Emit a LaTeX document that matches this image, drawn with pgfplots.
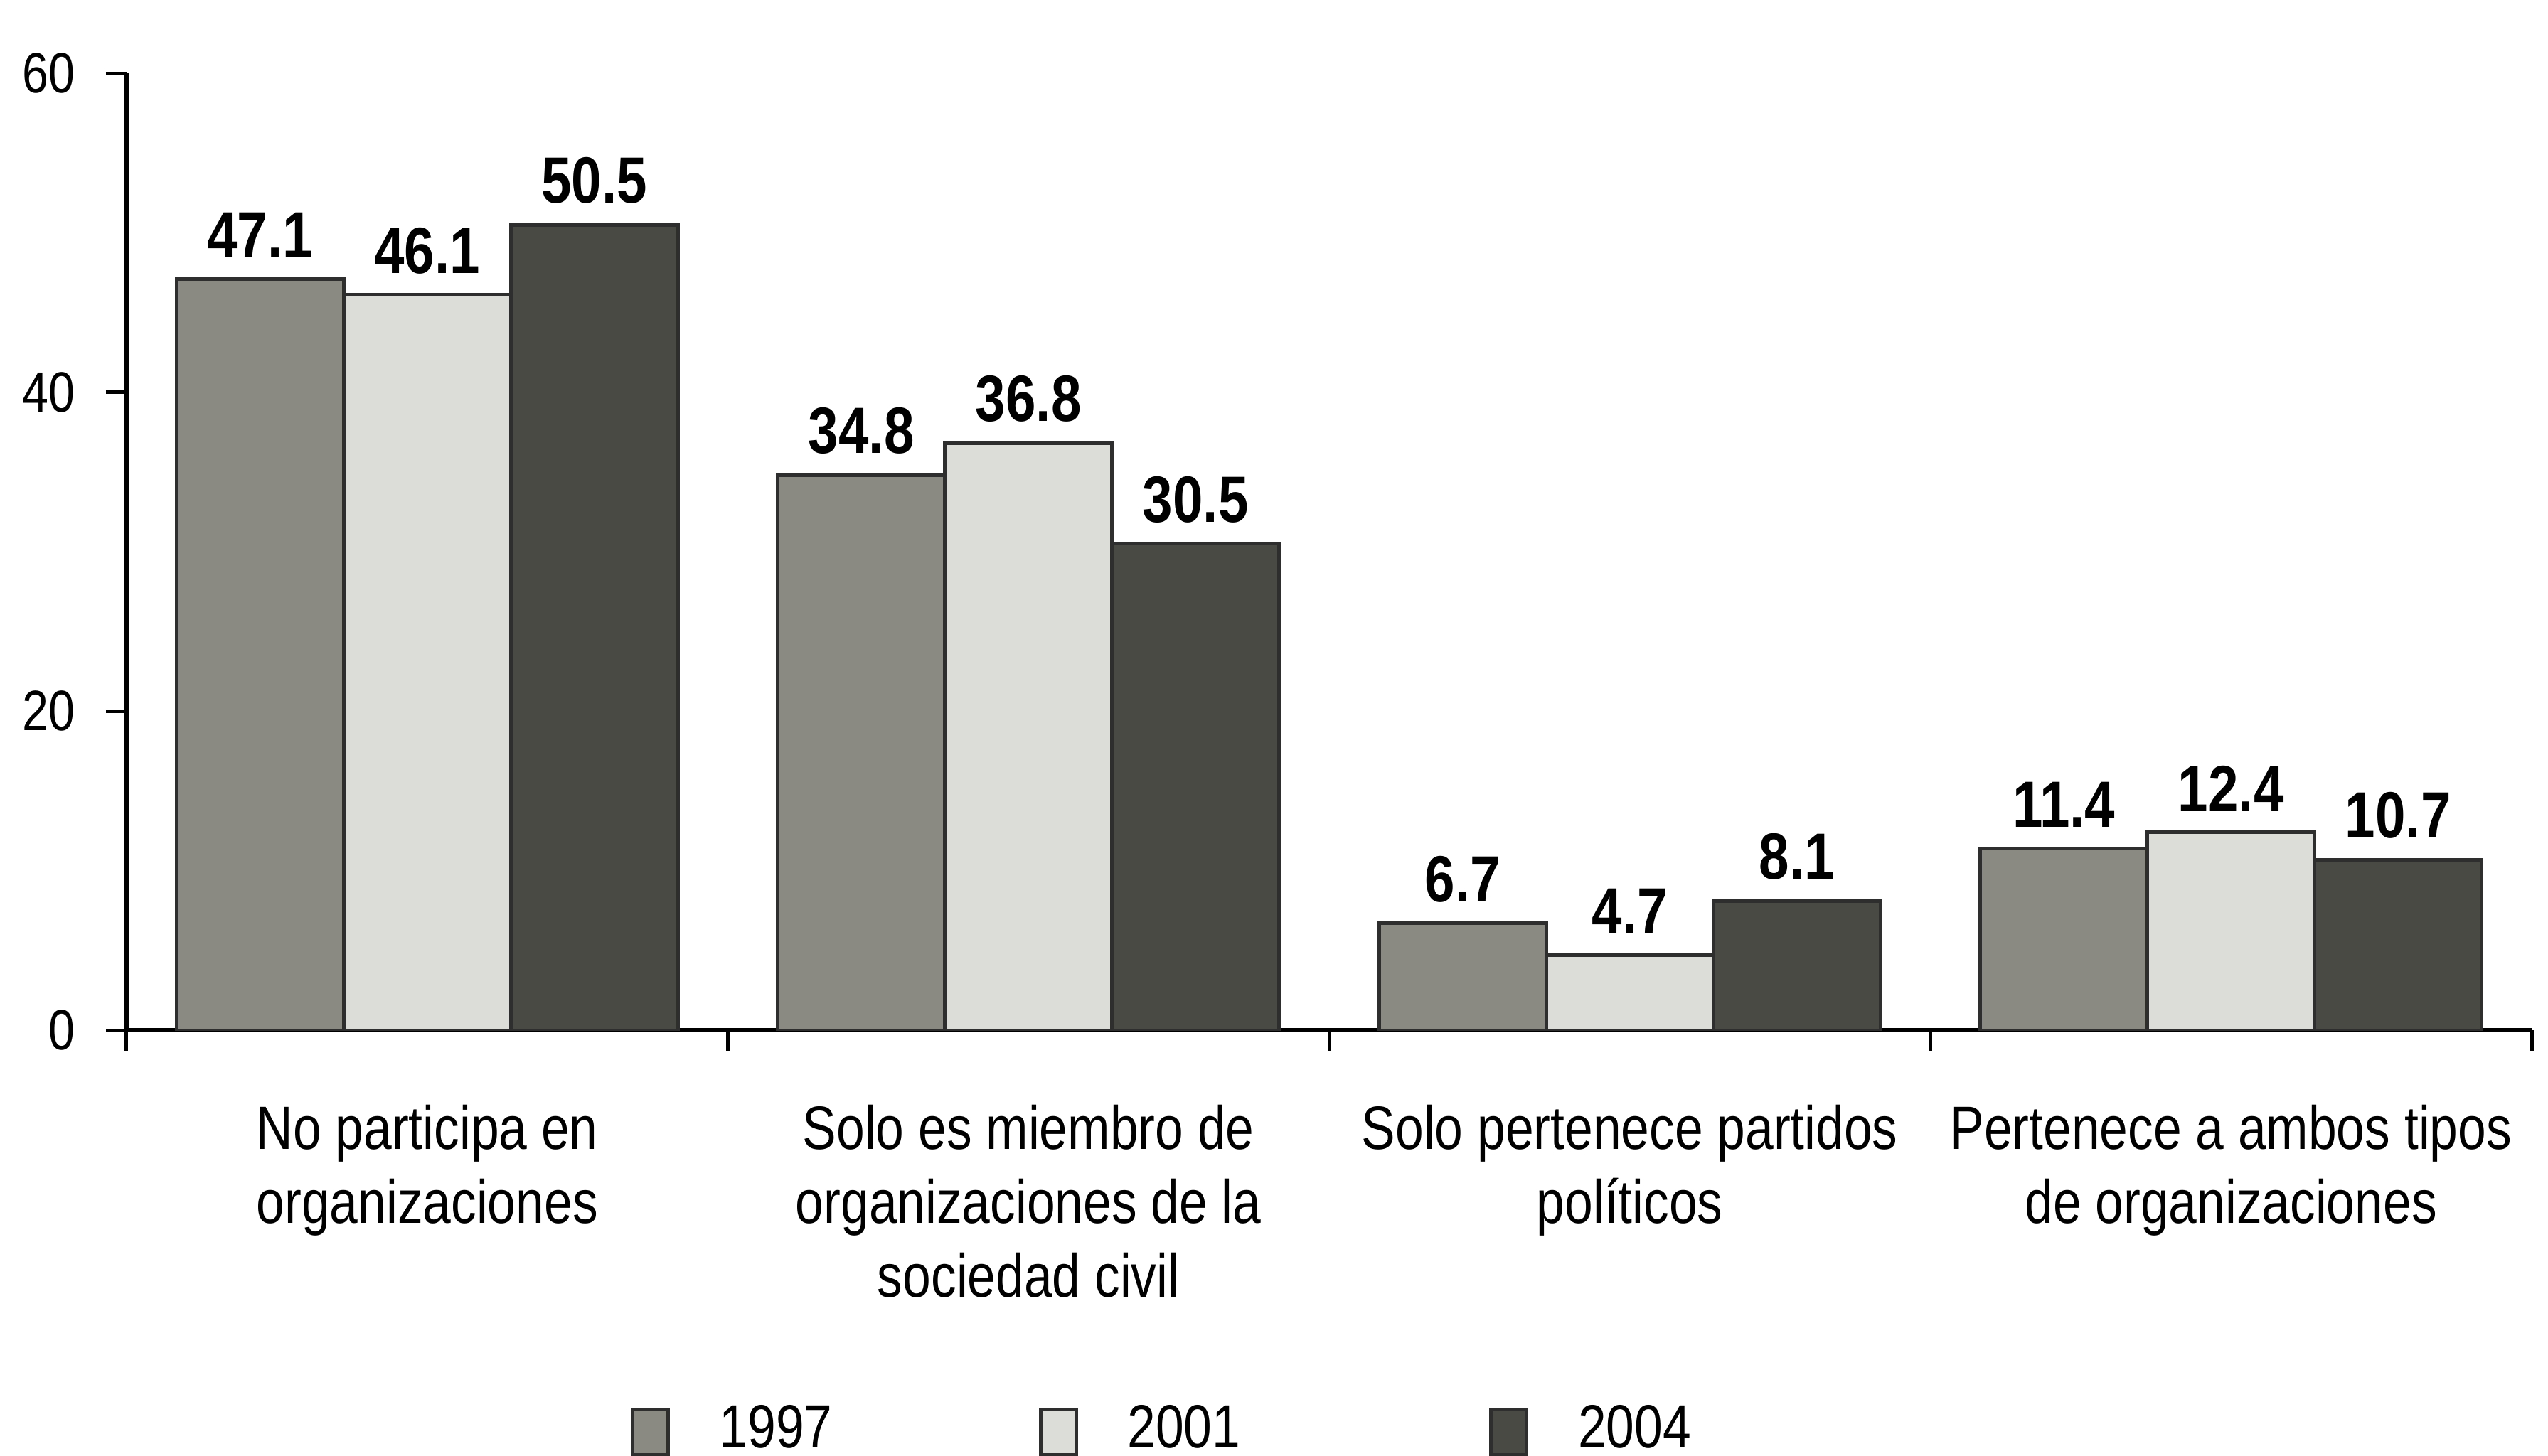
\documentclass[border=0pt]{standalone}
\usepackage{pgfplots}
\pgfplotsset{compat=1.18}
\usepackage{fontspec}
\setmainfont[FakeStretch=0.83]{Liberation Sans}
\definecolor{cA}{HTML}{8A8A82}
\definecolor{cB}{HTML}{DCDCD8}
\definecolor{cC}{HTML}{4A4A45}
\definecolor{edge}{HTML}{2E2E2E}
\begin{document}
\begin{tikzpicture}
\begin{axis}[
  at={(0,0)}, anchor=south west,
  scale only axis, width=338.2pt, height=134.6pt,
  ymin=0, ymax=60, ytick={0,20,40,60},
  xmin=-0.5, xmax=3.5,
  axis x line*=bottom, axis y line*=left,
  axis line style={line width=0.6pt, black},
  tick align=outside, major tick length=2.9pt,
  tick style={line width=0.5pt, black},
  /pgf/number format/assume math mode=true,
  yticklabel style={font=\fontsize{8}{10}\selectfont, xshift=-0.8pt},
  xtick={-0.5,0.5,1.5,2.5,3.5}, xticklabels={,,,,,},
  extra x ticks={0,1,2,3},
  extra x tick labels={{No participa en\\organizaciones},{Solo es miembro de\\organizaciones de la\\sociedad civil},{Solo pertenece partidos\\políticos},{Pertenece a ambos tipos\\de organizaciones}},
  extra x tick style={major tick length=0pt, tick style={draw=none}},
  xticklabel style={align=center, font=\fontsize{8.6}{10.4}\selectfont, yshift=-7pt},
  ybar=0pt, bar width=0.278,
  nodes near coords={\pgfmathprintnumber[fixed,fixed zerofill,precision=1,assume math mode=true]{\pgfplotspointmeta}},
  every node near coord/.append style={font=\fontsize{9.2}{11}\selectfont\bfseries, yshift=-0.6pt},
  legend columns=3,
  legend style={draw=none, at={(0.433,-0.42)}, anchor=center, font=\fontsize{8.6}{10}\selectfont,
    /tikz/every odd column/.append style={column sep=5pt},
    /tikz/column 2/.append style={column sep=27pt},
    /tikz/column 4/.append style={column sep=33pt}},
  legend cell align=left,
  legend image code/.code={\draw[#1, line width=0.5pt] (0pt,-3.2pt) rectangle (5pt,3.2pt);},
]
\addplot[fill=cA, draw=edge, line width=0.5pt] coordinates {(0,47.1) (1,34.8) (2,6.7) (3,11.4)};
\addplot[fill=cB, draw=edge, line width=0.5pt] coordinates {(0,46.1) (1,36.8) (2,4.7) (3,12.4)};
\addplot[fill=cC, draw=edge, line width=0.5pt] coordinates {(0,50.5) (1,30.5) (2,8.1) (3,10.7)};
\legend{1997,2001,2004}
\end{axis}
\pgfresetboundingbox
\path (-17.8pt,-59.8pt) rectangle (340.5pt,144.9pt);
\end{tikzpicture}
\end{document}
